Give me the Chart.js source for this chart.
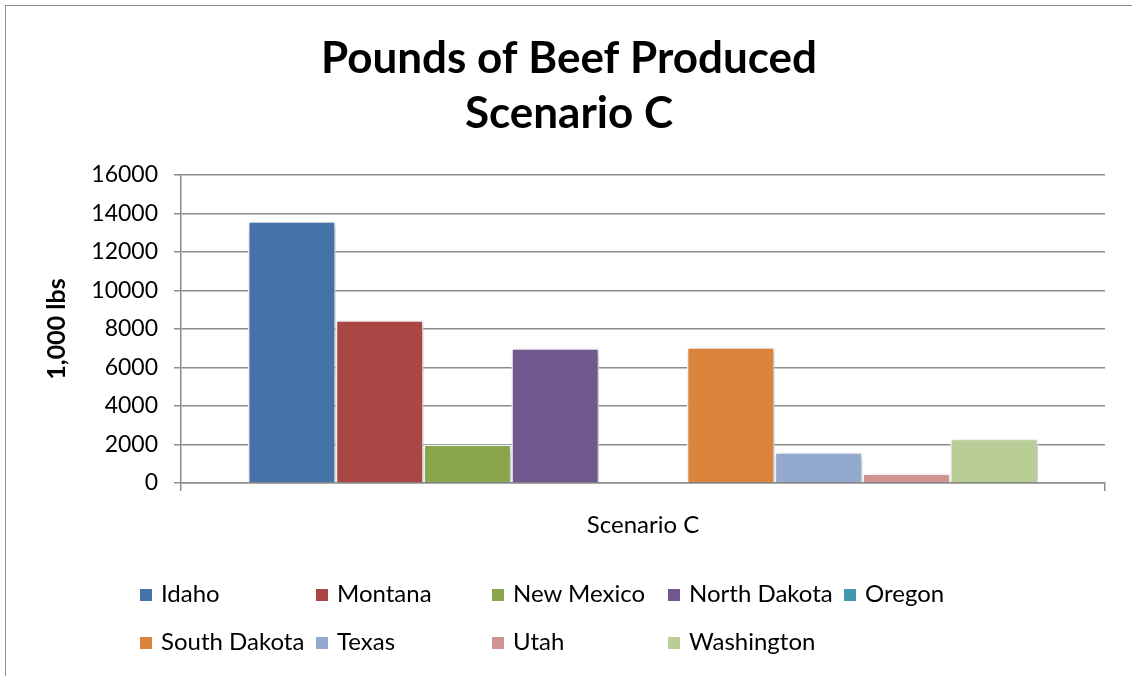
<!DOCTYPE html>
<html>
<head>
<meta charset="utf-8">
<title>Pounds of Beef Produced</title>
<script src="https://cdn.jsdelivr.net/npm/chart.js@4.4.1/dist/chart.umd.min.js"></script>
<style>
  body { margin: 0; background: #fff; }
  #wrap { position: relative; width: 1132px; height: 676px; overflow: hidden; }
  #frame {
    position: absolute; left: 5px; top: 5px; width: 1150px; height: 700px;
    border: 1.5px solid #8c8c8c; box-sizing: border-box;
  }
  #beefChart { position: absolute; left: 0; top: 0; }
  .lg-item {
    position: absolute; font-family: Lato, 'Open Sans', sans-serif;
    font-size: 24px; color: #000; white-space: nowrap; line-height: 28px;
  }
  .lg-box {
    display: inline-block; width: 12px; height: 12px; margin-right: 9px;
    vertical-align: 1px;
  }
</style>
</head>
<body>
<div id="wrap">
  <div id="frame"></div>
  <canvas id="beefChart" width="1132" height="676"></canvas>
  <div id="legend"></div>
</div>
<script>
// one category, one bar per state
const categories = ['Scenario C'];
const states = ['Idaho', 'Montana', 'New Mexico', 'North Dakota', 'Oregon',
  'South Dakota', 'Texas', 'Utah', 'Washington'];
const beef = [13600, 8450, 2000, 7000, 0, 7050, 1600, 500, 2300];
const stateColors = ['#4572A7', '#AA4643', '#89A54E', '#71588F', '#4198AF',
  '#DB843D', '#93A9CF', '#D19392', '#B9CD96'];
const yTicks = [0, 2000, 4000, 6000, 8000, 10000, 12000, 14000, 16000];

const font = 'Lato, "Open Sans", sans-serif';
const gridGray = '#8c8c8c';

const datasets = states.map((s, i) => ({
  label: s,
  data: [beef[i]],
  backgroundColor: stateColors[i],
  borderColor: '#ffffff',
  borderWidth: 1.5,
}));

//soft drop shadow behind the bars
const barShadow = {
  id: 'barShadow',
  beforeDatasetsDraw(chart) {
    const ctx = chart.ctx;
    ctx.save();
    ctx.shadowColor = 'rgba(0,0,0,0.28)';
    ctx.shadowBlur = 6;
    ctx.shadowOffsetX = 2;
    ctx.shadowOffsetY = 2;
  },
  afterDatasetsDraw(chart) {
    chart.ctx.restore();
  },
};

const config = {
  type: 'bar',
  data: { labels: categories, datasets: datasets },
  options: {
    responsive: false,
    animation: false,
    categoryPercentage: 0.855,
    barPercentage: 1.0,
    layout: { padding: { left: 33, right: 27, top: 6, bottom: 123 } },
    plugins: {
      legend: { display: false },
      tooltip: { enabled: false },
      title: {
        display: true,
        text: ['Pounds of Beef Produced', 'Scenario C'],
        color: '#000',
        font: { family: font, size: 44, weight: 'bold', lineHeight: 1.25 },
        padding: { top: 25, bottom: 34 },
      },
    },
    scales: {
      x: {
        grid: {
          offset: true,
          drawOnChartArea: false,
          drawTicks: true,
          tickLength: 8,
          color: gridGray,
          lineWidth: 1.5,
        },
        border: { color: gridGray, width: 1.5 },
        ticks: { color: '#000', padding: 20, font: { family: font, size: 24 } },
        afterFit: (scale) => {
          scale.height = 70;
        },
      },
      y: {
        min: 0,
        max: 16000,
        afterBuildTicks: (scale) => {
          scale.ticks = yTicks.map((v) => ({ value: v }));
        },
        grid: { color: gridGray, lineWidth: 1.5, tickLength: 7 },
        border: { color: gridGray, width: 1.5 },
        ticks: {
          color: '#000',
          padding: 16,
          font: { family: font, size: 23 },
          callback: (v) => String(v),
        },
        title: {
          display: true,
          text: '1,000 lbs',
          color: '#000',
          font: { family: font, size: 25, weight: 'bold' },
          padding: { top: 9, bottom: 0 },
        },
        afterFit: (scale) => {
          scale.width = 148;
        },
      },
    },
  },
  plugins: [barShadow],
};

const beefChart = new Chart(document.getElementById('beefChart'), config);

//legend laid out in fixed columns, two rows
const legend = document.getElementById('legend');
states.forEach((s, i) => {
  const row = i < 5 ? 0 : 1;
  const col = i < 5 ? i : i - 5;
  const item = document.createElement('div');
  item.className = 'lg-item';
  item.style.left = 140 + col * 176 + 'px';
  item.style.top = 579 + row * 48 + 'px';
  item.innerHTML = `<span class="lg-box" style="background:${stateColors[i]}"></span>${s}`;
  legend.appendChild(item);
});
</script>
</body>
</html>
